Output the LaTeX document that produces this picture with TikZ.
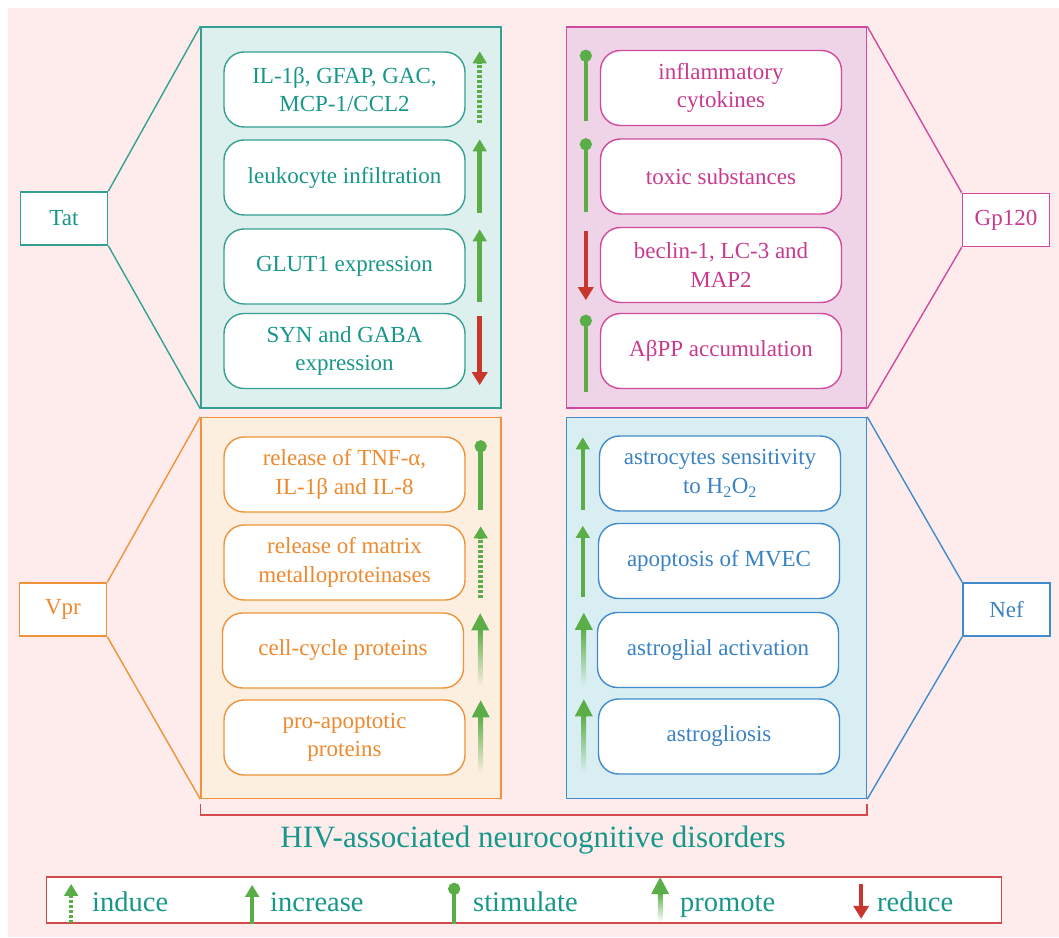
\documentclass[tikz,border=0pt]{standalone}
\usepackage{fontspec}
\setmainfont{Liberation Serif}
\usetikzlibrary{arrows.meta, calc}
\definecolor{bgpink}{HTML}{FDECEB}
\definecolor{tatline}{HTML}{34A092}
\definecolor{tatfill}{HTML}{DEF0EE}
\definecolor{tattext}{HTML}{17978A}
\definecolor{gpline}{HTML}{D04A9D}
\definecolor{gpfill}{HTML}{EFD3E6}
\definecolor{gptext}{HTML}{C93A8F}
\definecolor{vprline}{HTML}{F0923A}
\definecolor{vprfill}{HTML}{FCEFE0}
\definecolor{vprtext}{HTML}{EE892E}
\definecolor{nefline}{HTML}{408BCB}
\definecolor{neffill}{HTML}{D9EEF2}
\definecolor{neftext}{HTML}{3A82C4}
\definecolor{arrowgreen}{HTML}{5AAD47}
\definecolor{arrowred}{HTML}{C8372D}
\definecolor{legendred}{HTML}{D44A4A}
\tikzset{
	tri/.tip={Triangle[length=12pt, width=13.5pt]},
	redtri/.tip={Triangle[length=13pt, width=15pt]},
	lolli/.tip={Circle[length=12pt]},
	panel/.style={draw=#1line, fill=#1fill, line width=1.4pt,
		minimum width=300pt, minimum height=381pt, inner sep=0pt},
	itembox/.style={draw=#1line, fill=white, text=#1text, rounded corners=20pt,
		line width=1.4pt, minimum width=241pt, minimum height=75pt, inner sep=0pt,
		align=center, font=\fontsize{23}{28.5}\selectfont},
	agent/.style={draw=#1line, fill=white, text=#1text, line width=1.7pt,
		minimum width=87pt, minimum height=53pt, inner sep=0pt,
		font=\fontsize{23}{28}\selectfont},
	link/.style={draw=#1line, line width=1.4pt},
	induce/.style={arrowgreen, line width=4.5pt, dash pattern=on 3pt off 2pt, -tri},
	rise/.style={arrowgreen, line width=4.5pt, -tri},
	lower/.style={arrowred, line width=4.5pt, -redtri},
	stim/.style={arrowgreen, line width=4.5pt, -lolli},
	legtext/.style={text=tattext, anchor=base west, inner sep=0pt,
		font=\fontsize{28.5}{34}\selectfont},
}
% promote arrow: box, side, xshift, background colour
\newcommand\promoarrow[4]{%
	\path ([xshift=#3, yshift=2pt]#1.south #2) coordinate (pa)
		([xshift=#3, yshift=-1pt]#1.north #2) coordinate (pb);
	\shade[top color=arrowgreen, middle color=arrowgreen, bottom color=#4]
		($(pa)+(-2.3,0)$) rectangle ($(pb)+(2.3,-15)$);
	\fill[arrowgreen] ($(pb)+(-9,-17)$) -- (pb) -- ($(pb)+(9,-17)$) -- cycle;
}

\begin{document}
\begin{tikzpicture}[x=1pt, y=1pt]
	\useasboundingbox (0,0) rectangle (1059,937);
	\fill[bgpink] (8,0) rectangle (1059,929);
	
	% Panels
	\node[panel=tat] (tatp) at (351,719.5) {};
	\node[panel=gp] (gpp) at (716.5,719.5) {};
	\node[panel=vpr] (vprp) at (351,329) {};
	\node[panel=nef] (nefp) at (716.5,329) {};
	
	% Agents and links
	\node[agent=tat] (tat) at (64,718.5) {Tat};
	\node[agent=gp] (gp) at (1006,717) {Gp120};
	\node[agent=vpr] (vpr) at (63,327.5) {Vpr};
	\node[agent=nef] (nef) at (1006.5,327.5) {Nef};
	\draw[link=tat] (tat.north east) -- (tatp.north west) (tat.south east) -- (tatp.south west);
	\draw[link=gp] (gp.north west) -- (gpp.north east) (gp.south west) -- (gpp.south east);
	\draw[link=vpr] (vpr.north east) -- (vprp.north west) (vpr.south east) -- (vprp.south west);
	\draw[link=nef] (nef.north west) -- (nefp.north east) (nef.south west) -- (nefp.south east);
	
	% Tat
	\node[itembox=tat] (tat1) at (344.5,847.5) {IL-1β, GFAP, GAC,\\MCP-1/CCL2};
	\node[itembox=tat] (tat2) at (344.5,759.5) {leukocyte infiltration};
	\node[itembox=tat] (tat3) at (344.5,670.5) {GLUT1 expression};
	\node[itembox=tat] (tat4) at (344.5,586) {SYN and GABA\\expression};
	\draw[induce] ([xshift=14pt, yshift=5pt]tat1.south east) -- ([xshift=14pt]tat1.north east);
	\draw[rise] ([xshift=14pt, yshift=3pt]tat2.south east) -- ([xshift=14pt]tat2.north east);
	\draw[rise] ([xshift=14pt, yshift=3pt]tat3.south east) -- ([xshift=14pt, yshift=-1pt]tat3.north east);
	\draw[lower] ([xshift=14pt, yshift=-3pt]tat4.north east) -- ([xshift=14pt, yshift=4pt]tat4.south east);
	
	% Gp120
	\node[itembox=gp] (gp1) at (721,849) {inflammatory\\cytokines};
	\node[itembox=gp] (gp2) at (721,760.5) {toxic substances};
	\node[itembox=gp] (gp3) at (721,672) {beclin-1, LC-3 and\\MAP2};
	\node[itembox=gp] (gp4) at (721,586) {AβPP accumulation};
	\draw[stim] ([xshift=-14pt, yshift=5pt]gp1.south west) -- ([xshift=-14pt]gp1.north west);
	\draw[stim] ([xshift=-14pt, yshift=3pt]gp2.south west) -- ([xshift=-14pt]gp2.north west);
	\draw[lower] ([xshift=-14pt, yshift=-4pt]gp3.north west) -- ([xshift=-14pt, yshift=3pt]gp3.south west);
	\draw[stim] ([xshift=-14pt, yshift=-3pt]gp4.south west) -- ([xshift=-14pt, yshift=-2pt]gp4.north west);
	
	% Vpr
	\node[itembox=vpr] (vpr1) at (344.5,462.5) {release of TNF-α,\\IL-1β and IL-8};
	\node[itembox=vpr] (vpr2) at (344.5,374.5) {release of matrix\\metalloproteinases};
	\node[itembox=vpr] (vpr3) at (343,286.5) {cell-cycle proteins};
	\node[itembox=vpr] (vpr4) at (344.5,199.5) {pro-apoptotic\\proteins};
	\draw[stim] ([xshift=15pt, yshift=3pt]vpr1.south east) -- ([xshift=15pt, yshift=-4pt]vpr1.north east);
	\draw[induce] ([xshift=15pt, yshift=3pt]vpr2.south east) -- ([xshift=15pt, yshift=-2pt]vpr2.north east);
	\promoarrow{vpr3}{east}{16pt}{vprfill}
	\promoarrow{vpr4}{east}{15pt}{vprfill}
	
	% Nef
	\node[itembox=nef] (nef1) at (720,463.5) {astrocytes sensitivity\\to H\textsubscript{2}O\textsubscript{2}};
	\node[itembox=nef] (nef2) at (719,376) {apoptosis of MVEC};
	\node[itembox=nef] (nef3) at (718,287) {astroglial activation};
	\node[itembox=nef] (nef4) at (719,200.5) {astrogliosis};
	\draw[rise] ([xshift=-16pt, yshift=2pt]nef1.south west) -- ([xshift=-16pt, yshift=-2pt]nef1.north west);
	\draw[rise] ([xshift=-15pt, yshift=2pt]nef2.south west) -- ([xshift=-15pt, yshift=-3pt]nef2.north west);
	\promoarrow{nef3}{west}{-13pt}{neffill}
	\promoarrow{nef4}{west}{-14pt}{neffill}
	
	% Bracket and caption
	\draw[legendred, line width=1.5pt] ([yshift=-5pt]vprp.south west) -- ([yshift=-16pt]vprp.south west)
		-- ([yshift=-16pt]nefp.south east) -- ([yshift=-5pt]nefp.south east);
	\node[text=tattext, font=\fontsize{31}{37}\selectfont] (hand) at (533,97) {HIV-associated neurocognitive disorders};
	
	% Legend
	\node[draw=legendred, fill=white, line width=1.7pt, minimum width=955pt, minimum height=46pt, inner sep=0pt] (legend) at (524,37) {};
	\draw[induce] ([xshift=25.5pt, yshift=1pt]legend.south west) -- ([xshift=25.5pt, yshift=40pt]legend.south west);
	\draw[rise] ([xshift=206.5pt, yshift=0pt]legend.south west) -- ([xshift=206.5pt, yshift=39pt]legend.south west);
	\draw[stim] ([xshift=408.5pt, yshift=0pt]legend.south west) -- ([xshift=408.5pt, yshift=41pt]legend.south west);
	\promoarrow{legend}{west}{614.5pt}{white}
	\draw[lower] ([xshift=815.5pt, yshift=40pt]legend.south west) -- ([xshift=815.5pt, yshift=5pt]legend.south west);
	\node[legtext] (lind) at (92,26) {induce};
	\node[legtext] (linc) at (270,26) {increase};
	\node[legtext] (lsti) at (473,26) {stimulate};
	\node[legtext] (lpro) at (680,26) {promote};
	\node[legtext] (lred) at (877,26) {reduce};
\end{tikzpicture}
\end{document}
